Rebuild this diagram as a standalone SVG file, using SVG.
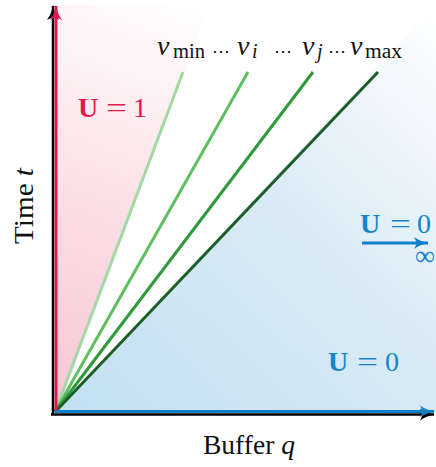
<svg xmlns="http://www.w3.org/2000/svg" width="436" height="467" viewBox="0 0 436 467">
<defs>
<linearGradient id="gPink" x1="55" y1="412" x2="210" y2="5" gradientUnits="userSpaceOnUse">
<stop offset="0" stop-color="#f7c6d3"/>
<stop offset="0.5" stop-color="#fbe0e7"/>
<stop offset="1" stop-color="#ffffff"/>
</linearGradient>
<linearGradient id="gBlue" x1="55" y1="412" x2="436" y2="5" gradientUnits="userSpaceOnUse">
<stop offset="0" stop-color="#c2dff1"/>
<stop offset="0.55" stop-color="#daebf6"/>
<stop offset="1" stop-color="#ffffff"/>
</linearGradient>
<marker id="ahK" markerWidth="16" markerHeight="14" refX="14" refY="7" orient="auto" markerUnits="userSpaceOnUse">
<path d="M0,1 Q7,6 15,7 Q7,8 0,13 L3,7 Z" fill="#000"/>
</marker>
<marker id="ahR" markerWidth="16" markerHeight="14" refX="14" refY="7" orient="auto" markerUnits="userSpaceOnUse">
<path d="M0,1 Q7,6 15,7 Q7,8 0,13 L3,7 Z" fill="#e3174f"/>
</marker>
<marker id="ahB" markerWidth="16" markerHeight="14" refX="14" refY="7" orient="auto" markerUnits="userSpaceOnUse">
<path d="M0,1 Q7,6 15,7 Q7,8 0,13 L3,7 Z" fill="#0f7fc6"/>
</marker>
</defs>
<style>
.t{font-family:"Liberation Serif","DejaVu Serif",serif;font-size:28px;fill:#111}
.it{font-style:italic}
.sub{font-size:20px}
.dots{font-family:"DejaVu Serif",serif;font-size:18px;fill:#111}
.red{fill:#e3174f}
.blue{fill:#1585cb}
.b{font-weight:bold}
</style>
<g id="regions">
<polygon id="pink" points="55,412 55,5 210,5" fill="url(#gPink)"/>
<polygon id="blue" points="55,412 436,412 436,5" fill="url(#gBlue)"/>
</g>
<g id="connectors">
<line x1="55" y1="412" x2="183" y2="72" stroke="#a3d9a3" stroke-width="3"/>
<line x1="55" y1="412" x2="248" y2="72" stroke="#5ebf5e" stroke-width="3"/>
<line x1="55" y1="412" x2="313" y2="72" stroke="#2f9a3c" stroke-width="3"/>
<line x1="55" y1="412" x2="378" y2="72" stroke="#1d5e28" stroke-width="3"/>
<line id="yaxis" x1="53" y1="414" x2="53" y2="6" stroke="#000" stroke-width="2.5" marker-end="url(#ahK)"/>
<line id="yred" x1="56" y1="412" x2="56" y2="6" stroke="#e3174f" stroke-width="3" marker-end="url(#ahR)"/>
<line id="xaxis" x1="51" y1="414.5" x2="434" y2="414.5" stroke="#000" stroke-width="2.5" marker-end="url(#ahK)"/>
<line id="xblue" x1="55" y1="411.5" x2="434" y2="411.5" stroke="#0f7fc6" stroke-width="3" marker-end="url(#ahB)"/>
<line id="inf" x1="362" y1="243" x2="428" y2="243" stroke="#0f7fc6" stroke-width="3" marker-end="url(#ahB)"/>
</g>
<g id="labels">
<text class="t it" x="157" y="55">v</text>
<text class="t sub" x="173" y="57.5" textLength="32" lengthAdjust="spacingAndGlyphs">min</text>
<text class="dots" x="212" y="57">⋯</text>
<text class="t it" x="237" y="55">v</text>
<text class="t sub it" x="252" y="57.5">i</text>
<text class="dots" x="274" y="57">⋯</text>
<text class="t it" x="302" y="55">v</text>
<text class="t sub it" x="317" y="57.5">j</text>
<text class="dots" x="328" y="57">⋯</text>
<text class="t it" x="350" y="55">v</text>
<text class="t sub" x="365" y="57.5" textLength="37" lengthAdjust="spacingAndGlyphs">max</text>
<text class="t red b" x="78" y="117">U</text>
<text class="t red" x="106" y="117" textLength="21" lengthAdjust="spacingAndGlyphs">=</text>
<text class="t red" x="133" y="117">1</text>
<text class="t blue b" x="360" y="233">U</text>
<text class="t blue" x="390" y="233" textLength="21" lengthAdjust="spacingAndGlyphs">=</text>
<text class="t blue" x="417" y="233">0</text>
<text class="t blue" x="415" y="265">∞</text>
<text class="t blue b" x="328" y="371">U</text>
<text class="t blue" x="357" y="371" textLength="21" lengthAdjust="spacingAndGlyphs">=</text>
<text class="t blue" x="385" y="371">0</text>
<text class="t" x="203" y="454" font-size="27" textLength="92" lengthAdjust="spacingAndGlyphs">Buffer <tspan class="it">q</tspan></text>
<text class="t" transform="translate(33,244) rotate(-90)" textLength="76" lengthAdjust="spacingAndGlyphs">Time <tspan class="it">t</tspan></text>
</g>
</svg>
